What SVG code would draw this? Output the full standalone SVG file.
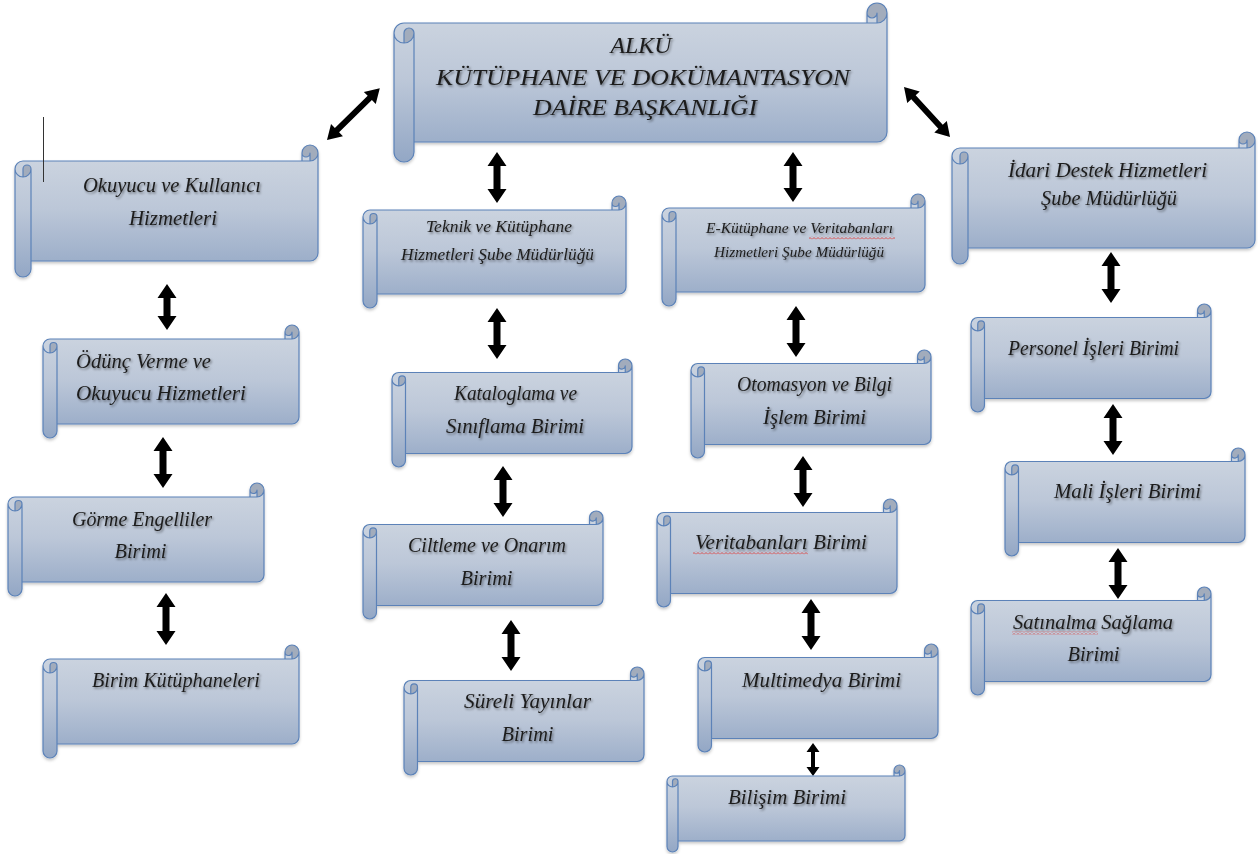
<svg xmlns="http://www.w3.org/2000/svg" xmlns:xlink="http://www.w3.org/1999/xlink" width="1258" height="854" viewBox="0 0 1258 854">
<defs>
<linearGradient id="g" x1="0" y1="0" x2="0" y2="1">
<stop offset="0" stop-color="#cdd5e0"/>
<stop offset="0.45" stop-color="#bcc7d8"/>
<stop offset="1" stop-color="#93a7c5"/>
</linearGradient>
<filter id="ts" x="-5%" y="-30%" width="110%" height="170%">
<feDropShadow dx="1.3" dy="1.6" stdDeviation="0.9" flood-color="#000" flood-opacity="0.45"/>
</filter>
<filter id="sh" x="-5%" y="-5%" width="110%" height="115%">
<feDropShadow dx="0" dy="2" stdDeviation="1.5" flood-color="#000" flood-opacity="0.22"/>
</filter>
<pattern id="squig" width="4" height="3" patternUnits="userSpaceOnUse">
<path d="M0,2.5 L2,0.5 L4,2.5" fill="none" stroke="#e0302a" stroke-width="0.8"/>
</pattern>
<style>
.sf{fill:url(#g);}
.sd{fill:#a2acbc;}
.ss{fill:none;stroke:#5b82b8;stroke-width:1.2;stroke-linejoin:round;}
.t{font-family:"Liberation Serif","Times New Roman",serif;font-style:italic;font-size:20px;fill:#1c1c1c;filter:url(#ts);text-anchor:middle;}
.tl{text-anchor:start;}
.ti{font-size:23px;}
.ts17{font-size:17px;}
.ts15{font-size:15.5px;}
.ar{fill:#000;}
</style>
<g id="scA" filter="url(#sh)">
<path class="sf" d="M240,6.75 A6.75,6.75 0 0 1 233.25,13.5 L233.25,6.75 A3.375,3.375 0 0 1 226.5,6.75 L226.5,13.5 L6.75,13.5 A6.75,6.75 0 0 0 0,20.25 L0,101.25 A6.75,6.75 0 0 0 13.5,101.25 L13.5,94.5 L233.25,94.5 A6.75,6.75 0 0 0 240,87.75 Z"/>
<path class="sd" d="M6.75,27 A6.75,6.75 0 0 0 13.5,20.25 A3.375,3.375 0 0 0 6.75,20.25 Z M233.25,13.5 A6.75,6.75 0 1 0 226.5,6.75 A3.375,3.375 0 0 0 233.25,6.75 Z"/>
<path class="ss" d="M0,20.25 A6.75,6.75 0 0 1 6.75,13.5 L226.5,13.5 L226.5,6.75 A6.75,6.75 0 0 1 240,6.75 L240,87.75 A6.75,6.75 0 0 1 233.25,94.5 L13.5,94.5 L13.5,101.25 A6.75,6.75 0 0 1 0,101.25 Z M226.5,13.5 L233.25,13.5 A6.75,6.75 0 0 0 240,6.75 M233.25,13.5 L233.25,6.75 A3.375,3.375 0 0 1 226.5,6.75 M6.75,27 L6.75,20.25 A3.375,3.375 0 0 1 13.5,20.25 A6.75,6.75 0 0 1 0,20.25 M13.5,20.25 L13.5,94.5"/>
</g>
<g id="scB" filter="url(#sh)">
<path class="sf" d="M256,7 A7,7 0 0 1 249,14 L249,7 A3.5,3.5 0 0 1 242,7 L242,14 L7,14 A7,7 0 0 0 0,21 L0,106 A7,7 0 0 0 14,106 L14,99 L249,99 A7,7 0 0 0 256,92 Z"/>
<path class="sd" d="M7,28 A7,7 0 0 0 14,21 A3.5,3.5 0 0 0 7,21 Z M249,14 A7,7 0 1 0 242,7 A3.5,3.5 0 0 0 249,7 Z"/>
<path class="ss" d="M0,21 A7,7 0 0 1 7,14 L242,14 L242,7 A7,7 0 0 1 256,7 L256,92 A7,7 0 0 1 249,99 L14,99 L14,106 A7,7 0 0 1 0,106 Z M242,14 L249,14 A7,7 0 0 0 256,7 M249,14 L249,7 A3.5,3.5 0 0 1 242,7 M7,28 L7,21 A3.5,3.5 0 0 1 14,21 A7,7 0 0 1 0,21 M14,21 L14,99"/>
</g>
<g id="scC" filter="url(#sh)">
<path class="sf" d="M263,7 A7,7 0 0 1 256,14 L256,7 A3.5,3.5 0 0 1 249,7 L249,14 L7,14 A7,7 0 0 0 0,21 L0,105 A7,7 0 0 0 14,105 L14,98 L256,98 A7,7 0 0 0 263,91 Z"/>
<path class="sd" d="M7,28 A7,7 0 0 0 14,21 A3.5,3.5 0 0 0 7,21 Z M256,14 A7,7 0 1 0 249,7 A3.5,3.5 0 0 0 256,7 Z"/>
<path class="ss" d="M0,21 A7,7 0 0 1 7,14 L249,14 L249,7 A7,7 0 0 1 263,7 L263,91 A7,7 0 0 1 256,98 L14,98 L14,105 A7,7 0 0 1 0,105 Z M249,14 L256,14 A7,7 0 0 0 263,7 M256,14 L256,7 A3.5,3.5 0 0 1 249,7 M7,28 L7,21 A3.5,3.5 0 0 1 14,21 A7,7 0 0 1 0,21 M14,21 L14,98"/>
</g>
<g id="scD" filter="url(#sh)">
<path class="sf" d="M303,8 A8,8 0 0 1 295,16 L295,8 A4,4 0 0 1 287,8 L287,16 L8,16 A8,8 0 0 0 0,24 L0,124 A8,8 0 0 0 16,124 L16,116 L295,116 A8,8 0 0 0 303,108 Z"/>
<path class="sd" d="M8,32 A8,8 0 0 0 16,24 A4,4 0 0 0 8,24 Z M295,16 A8,8 0 1 0 287,8 A4,4 0 0 0 295,8 Z"/>
<path class="ss" d="M0,24 A8,8 0 0 1 8,16 L287,16 L287,8 A8,8 0 0 1 303,8 L303,108 A8,8 0 0 1 295,116 L16,116 L16,124 A8,8 0 0 1 0,124 Z M287,16 L295,16 A8,8 0 0 0 303,8 M295,16 L295,8 A4,4 0 0 1 287,8 M8,32 L8,24 A4,4 0 0 1 16,24 A8,8 0 0 1 0,24 M16,24 L16,116"/>
</g>
<g id="scF" filter="url(#sh)">
<path class="sf" d="M493,10 A10,10 0 0 1 483,20 L483,10 A5,5 0 0 1 473,10 L473,20 L10,20 A10,10 0 0 0 0,30 L0,149 A10,10 0 0 0 20,149 L20,139 L483,139 A10,10 0 0 0 493,129 Z"/>
<path class="sd" d="M10,40 A10,10 0 0 0 20,30 A5,5 0 0 0 10,30 Z M483,20 A10,10 0 1 0 473,10 A5,5 0 0 0 483,10 Z"/>
<path class="ss" d="M0,30 A10,10 0 0 1 10,20 L473,20 L473,10 A10,10 0 0 1 493,10 L493,129 A10,10 0 0 1 483,139 L20,139 L20,149 A10,10 0 0 1 0,149 Z M473,20 L483,20 A10,10 0 0 0 493,10 M483,20 L483,10 A5,5 0 0 1 473,10 M10,40 L10,30 A5,5 0 0 1 20,30 A10,10 0 0 1 0,30 M20,30 L20,139"/>
</g>
<g id="scG" filter="url(#sh)">
<path class="sf" d="M238,5.5 A5.5,5.5 0 0 1 232.5,11 L232.5,5.5 A2.75,2.75 0 0 1 227,5.5 L227,11 L5.5,11 A5.5,5.5 0 0 0 0,16.5 L0,81.5 A5.5,5.5 0 0 0 11,81.5 L11,76 L232.5,76 A5.5,5.5 0 0 0 238,70.5 Z"/>
<path class="sd" d="M5.5,22 A5.5,5.5 0 0 0 11,16.5 A2.75,2.75 0 0 0 5.5,16.5 Z M232.5,11 A5.5,5.5 0 1 0 227,5.5 A2.75,2.75 0 0 0 232.5,5.5 Z"/>
<path class="ss" d="M0,16.5 A5.5,5.5 0 0 1 5.5,11 L227,11 L227,5.5 A5.5,5.5 0 0 1 238,5.5 L238,70.5 A5.5,5.5 0 0 1 232.5,76 L11,76 L11,81.5 A5.5,5.5 0 0 1 0,81.5 Z M227,11 L232.5,11 A5.5,5.5 0 0 0 238,5.5 M232.5,11 L232.5,5.5 A2.75,2.75 0 0 1 227,5.5 M5.5,22 L5.5,16.5 A2.75,2.75 0 0 1 11,16.5 A5.5,5.5 0 0 1 0,16.5 M11,16.5 L11,76"/>
</g>
</defs>

<rect x="0" y="0" width="1258" height="854" fill="#ffffff"/>

<g id="connectors">
<path class="ar" transform="translate(327,140) rotate(-44.5)" d="M0,0 L14,-8.5 L14,-3 L60,-3 L60,-8.5 L74,0 L60,8.5 L60,3 L14,3 L14,8.5 Z"/>
<path class="ar" transform="translate(904,87) rotate(47.4)" d="M0,0 L14,-8.5 L14,-3 L54,-3 L54,-8.5 L68,0 L54,8.5 L54,3 L14,3 L14,8.5 Z"/>
<path class="ar" d="M497,152 L506.5,166 L500.5,166 L500.5,189 L506.5,189 L497,203 L487.5,189 L493.5,189 L493.5,166 L487.5,166 Z"/>
<path class="ar" d="M793,152 L802.5,166 L796.5,166 L796.5,188 L802.5,188 L793,202 L783.5,188 L789.5,188 L789.5,166 L783.5,166 Z"/>
<path class="ar" d="M167,284 L176.5,298 L170.5,298 L170.5,316 L176.5,316 L167,330 L157.5,316 L163.5,316 L163.5,298 L157.5,298 Z"/>
<path class="ar" d="M163,437 L172.5,451 L166.5,451 L166.5,474 L172.5,474 L163,488 L153.5,474 L159.5,474 L159.5,451 L153.5,451 Z"/>
<path class="ar" d="M166,593 L175.5,607 L169.5,607 L169.5,631 L175.5,631 L166,645 L156.5,631 L162.5,631 L162.5,607 L156.5,607 Z"/>
<path class="ar" d="M497,308 L506.5,322 L500.5,322 L500.5,345 L506.5,345 L497,359 L487.5,345 L493.5,345 L493.5,322 L487.5,322 Z"/>
<path class="ar" d="M503,466 L512.5,480 L506.5,480 L506.5,503 L512.5,503 L503,517 L493.5,503 L499.5,503 L499.5,480 L493.5,480 Z"/>
<path class="ar" d="M511,620 L520.5,634 L514.5,634 L514.5,657 L520.5,657 L511,671 L501.5,657 L507.5,657 L507.5,634 L501.5,634 Z"/>
<path class="ar" d="M796,306 L805.5,320 L799.5,320 L799.5,343 L805.5,343 L796,357 L786.5,343 L792.5,343 L792.5,320 L786.5,320 Z"/>
<path class="ar" d="M803,456 L812.5,470 L806.5,470 L806.5,493 L812.5,493 L803,507 L793.5,493 L799.5,493 L799.5,470 L793.5,470 Z"/>
<path class="ar" d="M811,599 L820.5,613 L814.5,613 L814.5,636 L820.5,636 L811,650 L801.5,636 L807.5,636 L807.5,613 L801.5,613 Z"/>
<path class="ar" d="M813,743 L819.5,752 L815,752 L815,767 L819.5,767 L813,776 L806.5,767 L811,767 L811,752 L806.5,752 Z"/>
<path class="ar" d="M1111,252 L1120.5,266 L1114.5,266 L1114.5,289 L1120.5,289 L1111,303 L1101.5,289 L1107.5,289 L1107.5,266 L1101.5,266 Z"/>
<path class="ar" d="M1113,404 L1122.5,418 L1116.5,418 L1116.5,441 L1122.5,441 L1113,455 L1103.5,441 L1109.5,441 L1109.5,418 L1103.5,418 Z"/>
<path class="ar" d="M1118,548 L1127.5,562 L1121.5,562 L1121.5,585 L1127.5,585 L1118,599 L1108.5,585 L1114.5,585 L1114.5,562 L1108.5,562 Z"/>
</g>

<g id="n-baskanlik">
<use href="#scF" x="394" y="3"/>
<text class="t ti" x="641" y="53" textLength="61" lengthAdjust="spacingAndGlyphs">ALKÜ</text>
<text class="t ti" x="643" y="85" textLength="414" lengthAdjust="spacingAndGlyphs">KÜTÜPHANE VE DOKÜMANTASYON</text>
<text class="t ti" x="645" y="115" textLength="224" lengthAdjust="spacingAndGlyphs">DAİRE BAŞKANLIĞI</text>
</g>

<g id="n-okuyucu">
<use href="#scD" x="15" y="145"/>
<text class="t" x="172" y="192" textLength="178" lengthAdjust="spacingAndGlyphs">Okuyucu ve Kullanıcı</text>
<text class="t" x="173" y="225" textLength="88" lengthAdjust="spacingAndGlyphs">Hizmetleri</text>
</g>

<g id="n-teknik">
<use href="#scC" x="363" y="196"/>
<text class="t ts17" x="499" y="232" textLength="146" lengthAdjust="spacingAndGlyphs">Teknik ve Kütüphane</text>
<text class="t ts17" x="497.5" y="260" textLength="193" lengthAdjust="spacingAndGlyphs">Hizmetleri Şube Müdürlüğü</text>
</g>

<g id="n-ekutuphane">
<use href="#scC" x="662" y="194"/>
<text class="t ts15" x="799.5" y="233" textLength="187" lengthAdjust="spacingAndGlyphs">E-Kütüphane ve Veritabanları</text>
<text class="t ts15" x="799" y="257" textLength="170" lengthAdjust="spacingAndGlyphs">Hizmetleri Şube Müdürlüğü</text>
<rect x="809" y="236.5" width="86" height="3" fill="url(#squig)"/>
</g>

<g id="n-idari">
<use href="#scD" x="952" y="132"/>
<text class="t" x="1107.5" y="177" textLength="199" lengthAdjust="spacingAndGlyphs">İdari Destek Hizmetleri</text>
<text class="t" x="1109" y="205" textLength="136" lengthAdjust="spacingAndGlyphs">Şube Müdürlüğü</text>
</g>

<g id="n-odunc">
<use href="#scB" x="43" y="325"/>
<text class="t tl" x="76" y="368" textLength="135" lengthAdjust="spacingAndGlyphs">Ödünç Verme ve</text>
<text class="t tl" x="76" y="400" textLength="170" lengthAdjust="spacingAndGlyphs">Okuyucu Hizmetleri</text>
</g>

<g id="n-gorme">
<use href="#scB" x="8" y="483"/>
<text class="t" x="142" y="526" textLength="140" lengthAdjust="spacingAndGlyphs">Görme Engelliler</text>
<text class="t" x="140.5" y="558" textLength="52" lengthAdjust="spacingAndGlyphs">Birimi</text>
</g>

<g id="n-birimkut">
<use href="#scB" x="43" y="645"/>
<text class="t" x="176" y="687" textLength="168" lengthAdjust="spacingAndGlyphs">Birim Kütüphaneleri</text>
</g>

<g id="n-kataloglama">
<use href="#scA" x="392" y="359"/>
<text class="t" x="515.5" y="400" textLength="123" lengthAdjust="spacingAndGlyphs">Kataloglama ve</text>
<text class="t" x="515" y="433" textLength="138" lengthAdjust="spacingAndGlyphs">Sınıflama Birimi</text>
</g>

<g id="n-ciltleme">
<use href="#scA" x="363" y="511"/>
<text class="t" x="487" y="552" textLength="158" lengthAdjust="spacingAndGlyphs">Ciltleme ve Onarım</text>
<text class="t" x="486.5" y="585" textLength="52" lengthAdjust="spacingAndGlyphs">Birimi</text>
</g>

<g id="n-sureli">
<use href="#scA" x="404" y="667"/>
<text class="t" x="527.5" y="708" textLength="127" lengthAdjust="spacingAndGlyphs">Süreli Yayınlar</text>
<text class="t" x="527.5" y="741" textLength="52" lengthAdjust="spacingAndGlyphs">Birimi</text>
</g>

<g id="n-otomasyon">
<use href="#scA" x="691" y="350"/>
<text class="t" x="814.5" y="391" textLength="155" lengthAdjust="spacingAndGlyphs">Otomasyon ve Bilgi</text>
<text class="t" x="814.5" y="424" textLength="103" lengthAdjust="spacingAndGlyphs">İşlem Birimi</text>
</g>

<g id="n-veritabanlari">
<use href="#scA" x="657" y="499"/>
<text class="t" x="781" y="549" textLength="172" lengthAdjust="spacingAndGlyphs">Veritabanları Birimi</text>
<rect x="693" y="551.5" width="115" height="3" fill="url(#squig)"/>
</g>

<g id="n-multimedya">
<use href="#scA" x="698" y="644"/>
<text class="t" x="821.5" y="687" textLength="159" lengthAdjust="spacingAndGlyphs">Multimedya Birimi</text>
</g>

<g id="n-bilisim">
<use href="#scG" x="667" y="765"/>
<text class="t" x="787" y="804" textLength="118" lengthAdjust="spacingAndGlyphs">Bilişim Birimi</text>
</g>

<g id="n-personel">
<use href="#scA" x="971" y="304"/>
<text class="t" x="1093.5" y="355" textLength="171" lengthAdjust="spacingAndGlyphs">Personel İşleri Birimi</text>
</g>

<g id="n-mali">
<use href="#scA" x="1005" y="448"/>
<text class="t" x="1127.5" y="498" textLength="147" lengthAdjust="spacingAndGlyphs">Mali İşleri Birimi</text>
</g>

<g id="n-satinalma">
<use href="#scA" x="971" y="587"/>
<text class="t" x="1093" y="629" textLength="160" lengthAdjust="spacingAndGlyphs">Satınalma Sağlama</text>
<text class="t" x="1093.5" y="661" textLength="52" lengthAdjust="spacingAndGlyphs">Birimi</text>
<rect x="1012" y="631.5" width="86" height="3" fill="url(#squig)"/>
</g>

<line x1="43.5" y1="117" x2="43.5" y2="182" stroke="#333333" stroke-width="1"/>
</svg>
